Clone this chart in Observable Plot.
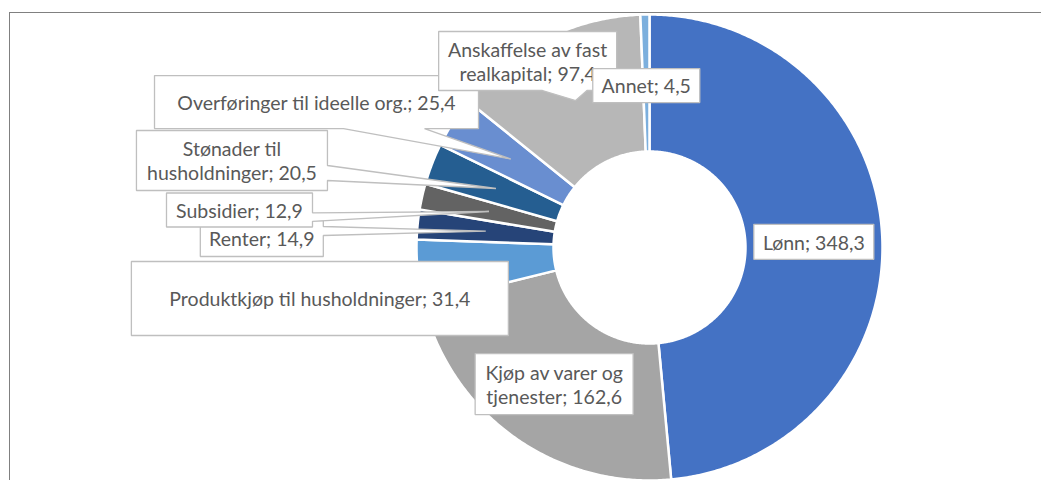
<!DOCTYPE html>
<html><head><meta charset="utf-8">
<script src="https://cdn.jsdelivr.net/npm/d3@7"></script>
<script src="https://cdn.jsdelivr.net/npm/@observablehq/plot@0.6"></script>
<style>
html,body{margin:0;padding:0;background:#fff;overflow:hidden}
#wrap{position:relative;width:1041px;height:480px;overflow:hidden}
#frame{position:absolute;left:9px;top:12px;width:1200px;height:700px;border-left:1.5px solid #808080;border-top:1.5px solid #808080;pointer-events:none}
</style></head><body><div id="wrap"><div id="chart"></div><div id="frame"></div></div>
<script>
// ---- data ----
const categories = ["Lønn", "Kjøp av varer og tjenester", "Produktkjøp til husholdninger", "Renter", "Subsidier", "Stønader til husholdninger", "Overføringer til ideelle org.", "Anskaffelse av fast realkapital", "Annet"];
const values = [348.3, 162.6, 31.4, 14.9, 12.9, 20.5, 25.4, 97.4, 4.5];
const colors = ["#4472C4", "#A5A5A5", "#5B9BD5", "#264478", "#636363", "#255E91", "#698ED0", "#B7B7B7", "#7CAFDD"];

// ---- layout ----
const W = 1041, H = 480, CX = 649, CY = 247, R = 233, R0 = 96 / 233;
const RM = (1 + R0) / 2;
// label box: offset of box centre from slice centroid (px), box size (px), words on first line
const layout = {
  "Lønn": {dx: 0, dy: 2, w: 120, h: 35},
  "Kjøp av varer og tjenester": {dx: 0, dy: 2.5, w: 158, h: 61, wrap: 4},
  "Produktkjøp til husholdninger": {dx: -166, dy: 34, w: 377, h: 74},
  "Renter": {dx: -224, dy: 7.3, w: 123, h: 36},
  "Subsidier": {dx: -249.5, dy: -1.5, w: 146, h: 34},
  "Stønader til husholdninger": {dx: -264, dy: -28, w: 191, h: 60, wrap: 2},
  "Overføringer til ideelle org.": {dx: -194.3, dy: -57, w: 324, h: 53},
  "Anskaffelse av fast realkapital": {dx: -48, dy: -39.5, w: 178, h: 59, wrap: 3},
  "Annet": {dx: 0, dy: 2.5, w: 107, h: 34}
};

const data = categories.map((name, i) => ({name, value: values[i]}));
const fmt = (v) => d3.format(".1f")(v).replace(".", ",");
const arcs = d3.pie().sort(null).value((d) => d.value)(data);

// slice outlines in radius units
const slicePts = arcs.flatMap((a) => {
  const n = Math.max(2, Math.ceil((a.endAngle - a.startAngle) / (Math.PI / 360)));
  const pts = [];
  for (let i = 0; i <= n; i++) {
    const t = a.startAngle + (a.endAngle - a.startAngle) * i / n;
    pts.push({name: a.data.name, x: Math.sin(t), y: Math.cos(t)});
  }
  for (let i = n; i >= 0; i--) {
    const t = a.startAngle + (a.endAngle - a.startAngle) * i / n;
    pts.push({name: a.data.name, x: R0 * Math.sin(t), y: R0 * Math.cos(t)});
  }
  return pts;
});

// callouts
function calloutPoly(cx, cy, w, h, tx, ty) {
  const l = cx - w / 2, r = cx + w / 2, t = cy - h / 2, b = cy + h / 2;
  const dxp = tx - cx, dyp = ty - cy;
  const inside = Math.abs(dxp) <= w / 2 && Math.abs(dyp) <= h / 2;
  const vert = Math.abs(dyp) * w > Math.abs(dxp) * h;
  const gx1 = dxp > 0 ? 7 : 2, gx2 = dxp > 0 ? 10 : 5;
  const gy1 = dyp > 0 ? 7 : 2, gy2 = dyp > 0 ? 10 : 5;
  const p = [[l, t]];
  if (!inside && vert && dyp < 0) p.push([l + w * gx1 / 12, t], [tx, ty], [l + w * gx2 / 12, t]);
  p.push([r, t]);
  if (!inside && !vert && dxp > 0) p.push([r, t + h * gy1 / 12], [tx, ty], [r, t + h * gy2 / 12]);
  p.push([r, b]);
  if (!inside && vert && dyp > 0) p.push([l + w * gx2 / 12, b], [tx, ty], [l + w * gx1 / 12, b]);
  p.push([l, b]);
  if (!inside && !vert && dxp < 0) p.push([l, t + h * gy2 / 12], [tx, ty], [l, t + h * gy1 / 12]);
  return p;
}

const labelMarks = arcs.flatMap((a) => {
  const L = layout[a.data.name];
  const mid = (a.startAngle + a.endAngle) / 2;
  const tx = RM * R * Math.sin(mid), ty = -RM * R * Math.cos(mid);
  const bx = tx + L.dx, by = ty + L.dy;
  const poly = calloutPoly(bx, by, L.w, L.h, tx, ty).map(([px, py]) => ({x: px / R, y: -py / R}));
  let text = a.data.name + "; " + fmt(a.data.value);
  if (L.wrap) {
    const words = text.split(" ");
    text = words.slice(0, L.wrap).join(" ") + "\n" + words.slice(L.wrap).join(" ");
  }
  return [
    Plot.line(poly, {x: "x", y: "y", fill: "white", stroke: "#BFBFBF", strokeWidth: 1.3, curve: "linear-closed", strokeLinejoin: "miter"}),
    Plot.text([{x: bx / R, y: -by / R, text}], {x: "x", y: "y", text: "text", fill: "#595959", fontSize: 19.5, fontFamily: "Lato", lineHeight: 1.23})
  ];
});

const chart = Plot.plot({
  width: W, height: H, margin: 0,
  x: {domain: [-CX / R, (W - CX) / R], range: [0, W], axis: null},
  y: {domain: [-(H - CY) / R, CY / R], range: [H, 0], axis: null},
  color: {domain: categories, range: colors},
  style: {background: "white"},
  marks: [
    Plot.line(slicePts, {x: "x", y: "y", z: "name", fill: "name", stroke: "white", strokeWidth: 2.5, curve: "linear-closed"}),
    ...labelMarks
  ]
});
document.getElementById("chart").appendChild(chart);
</script>
</body></html>
